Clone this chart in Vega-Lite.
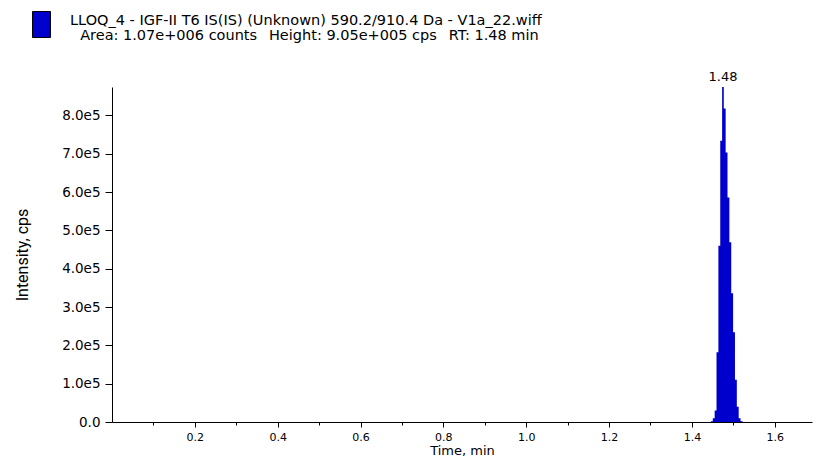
{
  "$schema": "https://vega.github.io/schema/vega-lite/v6.json",
  "width": 700,
  "height": 335,
  "autosize": {"type": "none"},
  "padding": {"left": 112, "top": 87, "right": 5, "bottom": 37},
  "background": "white",
  "title": {
    "text": "LLOQ_4 - IGF-II T6 IS(IS) (Unknown) 590.2/910.4 Da - V1a_22.wiff",
    "subtitle": "\u200b\u2002\u2009Area: 1.07e+006 counts\u2002 Height: 9.05e+005 cps\u2002 RT: 1.48 min",
    "anchor": "start",
    "frame": "group",
    "dx": -42,
    "dy": 32,
    "offset": 0,
    "font": "DejaVu Sans",
    "fontSize": 14.5,
    "fontWeight": "normal",
    "color": "#000000",
    "subtitleFont": "DejaVu Sans",
    "subtitleFontSize": 14.5,
    "subtitleColor": "#000000",
    "subtitlePadding": 0
  },
  "config": {
    "view": {"stroke": null},
    "axis": {
      "grid": false,
      "domainColor": "#000000",
      "tickColor": "#000000",
      "labelColor": "#000000",
      "titleColor": "#000000",
      "labelFont": "DejaVu Sans",
      "labelFontSize": 11,
      "titleFont": "DejaVu Sans",
      "titleFontSize": 13,
      "titleFontWeight": "normal"
    }
  },
  "datasets": {
    "trace": [
      {"time": 0.0, "intensity": 0, "series": "LLOQ_4"},
      {"time": 0.5, "intensity": 0, "series": "LLOQ_4"},
      {"time": 1.0, "intensity": 0, "series": "LLOQ_4"},
      {"time": 1.444, "intensity": 0, "series": "LLOQ_4"},
      {"time": 1.448, "intensity": 2000, "series": "LLOQ_4"},
      {"time": 1.453, "intensity": 10000, "series": "LLOQ_4"},
      {"time": 1.457, "intensity": 30000, "series": "LLOQ_4"},
      {"time": 1.462, "intensity": 182000, "series": "LLOQ_4"},
      {"time": 1.466, "intensity": 460000, "series": "LLOQ_4"},
      {"time": 1.471, "intensity": 734000, "series": "LLOQ_4"},
      {"time": 1.475, "intensity": 874000, "series": "LLOQ_4"},
      {"time": 1.479, "intensity": 818000, "series": "LLOQ_4"},
      {"time": 1.484, "intensity": 703000, "series": "LLOQ_4"},
      {"time": 1.488, "intensity": 586000, "series": "LLOQ_4"},
      {"time": 1.493, "intensity": 469000, "series": "LLOQ_4"},
      {"time": 1.497, "intensity": 336000, "series": "LLOQ_4"},
      {"time": 1.502, "intensity": 234000, "series": "LLOQ_4"},
      {"time": 1.506, "intensity": 110000, "series": "LLOQ_4"},
      {"time": 1.511, "intensity": 40000, "series": "LLOQ_4"},
      {"time": 1.515, "intensity": 10000, "series": "LLOQ_4"},
      {"time": 1.52, "intensity": 2000, "series": "LLOQ_4"},
      {"time": 1.525, "intensity": 0, "series": "LLOQ_4"},
      {"time": 1.6, "intensity": 0, "series": "LLOQ_4"},
      {"time": 1.69, "intensity": 0, "series": "LLOQ_4"}
    ],
    "peak": [
      {"time": 1.475, "intensity": 874000, "label": "1.48"}
    ]
  },
  "layer": [
    {
      "data": {"name": "trace"},
      "mark": {"type": "area", "interpolate": "step", "clip": true},
      "encoding": {
        "x": {
          "field": "time",
          "type": "quantitative",
          "scale": {"domain": [0, 1.69], "nice": false, "zero": false},
          "axis": {
            "title": "Time, min",
            "values": [0.1, 0.2, 0.3, 0.4, 0.5, 0.6, 0.7, 0.8, 0.9, 1.0, 1.1, 1.2, 1.3, 1.4, 1.5, 1.6],
            "labelExpr": "round(datum.value*10) % 2 == 0 ? format(datum.value, '.1f') : ''",
            "tickSize": {"condition": {"test": "round(datum.value*10) % 2 == 0", "value": 5}, "value": 3},
            "labelPadding": 4,
            "titlePadding": 2,
            "labelFlush": false,
            "labelOverlap": false
          }
        },
        "y": {
          "field": "intensity",
          "type": "quantitative",
          "scale": {"domain": [0, 874000], "nice": false},
          "axis": {
            "title": "Intensity, cps",
            "titleFont": "Roboto",
            "titleFontSize": 16,
            "labelFontSize": 13.5,
            "values": [0, 50000, 100000, 150000, 200000, 250000, 300000, 350000, 400000, 450000, 500000, 550000, 600000, 650000, 700000, 750000, 800000, 850000],
            "labelExpr": "datum.value % 100000 != 0 ? '' : (datum.value == 0 ? '0.0' : format(datum.value/100000, '.1f') + 'e5')",
            "tickSize": {"condition": {"test": "datum.value % 100000 == 0", "value": 7}, "value": 4},
            "labelPadding": 5,
            "titlePadding": 31,
            "labelOverlap": false,
            "labelFlush": false
          }
        },
        "color": {
          "field": "series",
          "type": "nominal",
          "scale": {"range": ["#0000CC"]},
          "legend": {
            "orient": "none",
            "legendX": -84,
            "legendY": -76,
            "title": null,
            "labelExpr": "''",
            "padding": 0,
            "symbolType": "M-0.69,-1L0.69,-1L0.69,1L-0.69,1Z",
            "symbolSize": 676,
            "symbolStrokeWidth": 1,
            "encode": {
              "symbols": {
                "update": {
                  "fill": {"value": "#0000FF"},
                  "stroke": {"value": "#000000"},
                  "opacity": {"value": 1}
                }
              }
            }
          }
        }
      }
    },
    {
      "data": {"name": "peak"},
      "mark": {"type": "text", "dy": -10, "font": "DejaVu Sans", "fontSize": 13, "color": "#000000"},
      "encoding": {
        "x": {"field": "time", "type": "quantitative"},
        "y": {"field": "intensity", "type": "quantitative"},
        "text": {"field": "label"}
      }
    }
  ]
}
